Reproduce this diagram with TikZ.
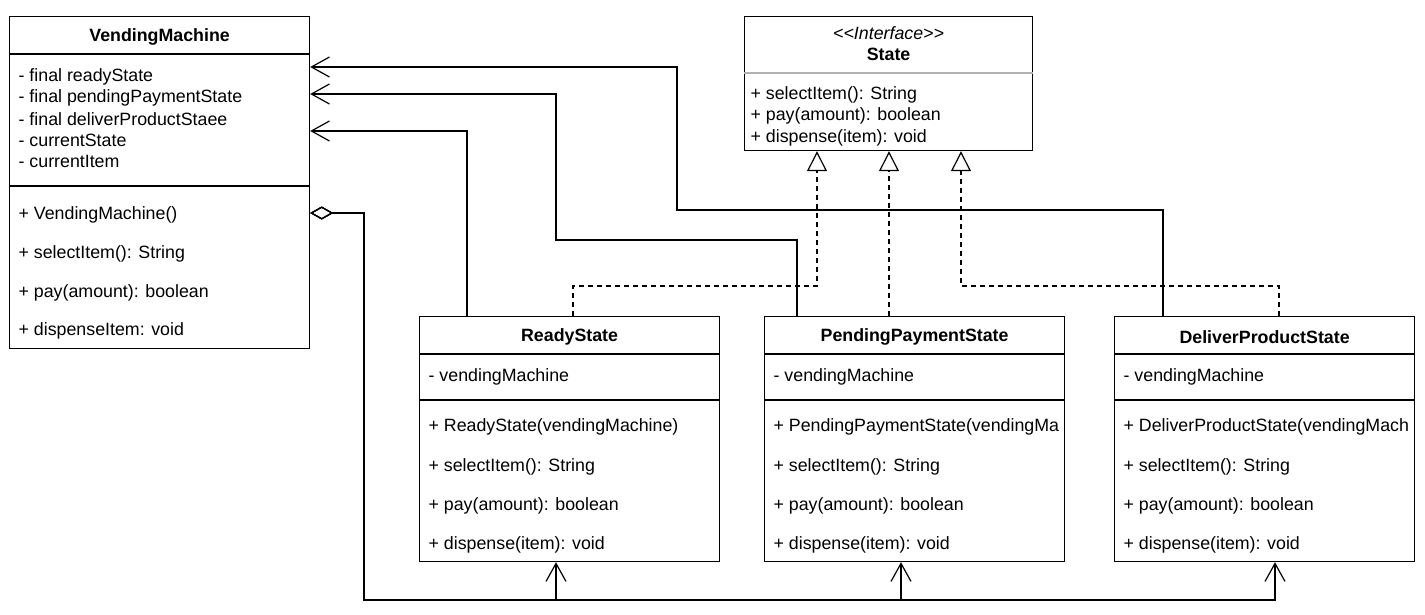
\documentclass[tikz,border=0pt]{standalone}
\usepackage{fontspec}
\setmainfont{Liberation Sans}
\usetikzlibrary{arrows.meta,positioning}

\begin{document}
\begin{tikzpicture}[x=1pt,y=-1pt,line width=1.2pt,
   class/.style={draw,rectangle,anchor=north west,minimum width=300pt,inner sep=0pt,fill=white},
   title/.style={inner sep=0pt,yshift=-2pt,font=\fontsize{17.8}{21}\selectfont\bfseries},
   item/.style={anchor=west,inner sep=0pt,yshift=-2pt,font=\fontsize{17.8}{21}\selectfont},
   assoc/.style={-{Straight Barb[length=18pt,width=20pt]}},
   real/.style={dash pattern=on 5pt off 4pt,-{Triangle[open,length=20pt,width=20pt]}},
   agg/.style={{Diamond[open,length=23pt,width=13pt]}-{Straight Barb[length=18pt,width=20pt]}}]
   \useasboundingbox (0,0) rectangle (1425,615);
   % context class
   \node[class,minimum height=332pt] (vm) at (9,16) {};
   \draw ([yshift=-38pt]vm.north west) -- ([yshift=-38pt]vm.north east);
   \draw ([yshift=-170pt]vm.north west) -- ([yshift=-170pt]vm.north east);
   \node[title] (vmT) at ([yshift=-19pt]vm.north) {VendingMachine};
   \node[item] at ([xshift=9pt,yshift=-59pt]vm.north west) {- final readyState};
   \node[item] at ([xshift=9pt,yshift=-80pt]vm.north west) {- final pendingPaymentState};
   \node[item] at ([xshift=9pt,yshift=-101pt]vm.north west) {- final deliverProductStaee};
   \node[item] at ([xshift=9pt,yshift=-122pt]vm.north west) {- currentState};
   \node[item] at ([xshift=9pt,yshift=-143pt]vm.north west) {- currentItem};
   \node[item] at ([xshift=9pt,yshift=-197pt]vm.north west) {+ VendingMachine()};
   \node[item] at ([xshift=9pt,yshift=-236pt]vm.north west) {+ selectItem(): String};
   \node[item] at ([xshift=9pt,yshift=-275pt]vm.north west) {+ pay(amount): boolean};
   \node[item] at ([xshift=9pt,yshift=-313pt]vm.north west) {+ dispenseItem: void};
   % interface
   \node[class,minimum width=288pt,minimum height=134pt] (st) at (744,16) {};
   \draw[gray!60] ([yshift=-57pt]st.north west) -- ([yshift=-57pt]st.north east);
   \node[title,font=\fontsize{17.8}{21}\selectfont\itshape] at ([yshift=-15pt]st.north) {<\kern0pt<Interface>\kern0pt>};
   \node[title] (stT) at ([yshift=-36pt]st.north) {State};
   \node[item] at ([xshift=6pt,yshift=-77pt]st.north west) {+ selectItem(): String};
   \node[item] at ([xshift=6pt,yshift=-98pt]st.north west) {+ pay(amount): boolean};
   \node[item] at ([xshift=6pt,yshift=-120pt]st.north west) {+ dispense(item): void};
   % concrete states
   \foreach \n/\x/\t/\c in {ready/419/ReadyState/{+ ReadyState(vendingMachine)},
         pend/764/PendingPaymentState/{+ PendingPaymentState(vendingMa},
         deliv/1114/DeliverProductState/{+ DeliverProductState(vendingMach}} {
      \node[class,minimum height=245pt] (\n) at (\x,316) {};
      \draw ([yshift=-38pt]\n.north west) -- ([yshift=-38pt]\n.north east);
      \draw ([yshift=-84pt]\n.north west) -- ([yshift=-84pt]\n.north east);
      \node[title] at ([yshift=-19pt]\n.north) {\t};
      \node[item] at ([xshift=9pt,yshift=-59pt]\n.north west) {- vendingMachine};
      \begin{scope}
         \clip ([yshift=-86pt]\n.north west) rectangle ([xshift=-3pt,yshift=-130pt]\n.north east);
         \node[item] at ([xshift=9pt,yshift=-109pt]\n.north west) {\c};
      \end{scope}
      \node[item] at ([xshift=9pt,yshift=-149pt]\n.north west) {+ selectItem(): String};
      \node[item] at ([xshift=9pt,yshift=-188pt]\n.north west) {+ pay(amount): boolean};
      \node[item] at ([xshift=9pt,yshift=-227pt]\n.north west) {+ dispense(item): void};
   }
   % bends
   \coordinate (b1) at (677,210);
   \coordinate (b2) at (556,240);
   \coordinate (r1) at (817,286);
   \coordinate (r2) at (961,286);
   \coordinate (a1) at (364,600);
   % associations
   \draw[assoc] ([xshift=49pt]deliv.north west) |- (b1) |- ([yshift=-51pt]vm.north east);
   \draw[assoc] ([xshift=33pt]pend.north west) |- (b2) |- ([yshift=-78pt]vm.north east);
   \draw[assoc] ([xshift=48pt]ready.north west) |- ([yshift=-115pt]vm.north east);
   % realizations
   \draw[real] ([xshift=154pt]ready.north west) |- (r1) -- ([xshift=73pt]st.south west);
   \draw[real] ([xshift=125pt]pend.north west) -- ([xshift=145pt]st.south west);
   \draw[real] ([xshift=165pt]deliv.north west) |- (r2) -- ([xshift=217pt]st.south west);
   % aggregation
   \draw[agg] ([yshift=-197pt]vm.north east) -| (a1) -| ([xshift=137pt]ready.south west);
   \draw[agg] ([yshift=-197pt]vm.north east) -| (a1) -| ([xshift=137pt]pend.south west);
   \draw[agg] ([yshift=-197pt]vm.north east) -| (a1) -| ([xshift=161pt]deliv.south west);
\end{tikzpicture}
\end{document}
